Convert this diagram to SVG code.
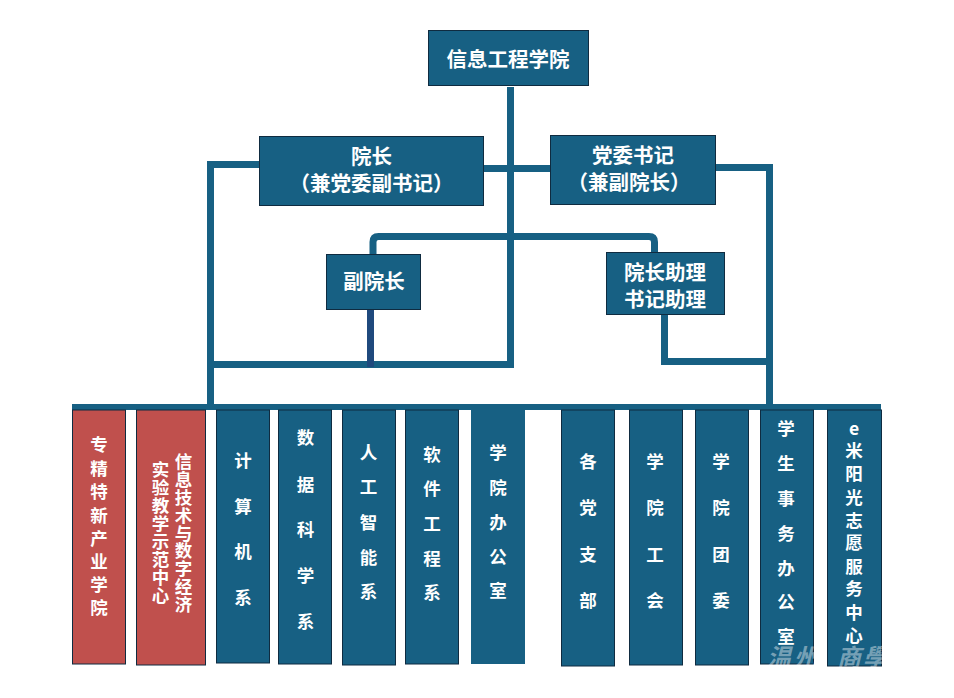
<svg xmlns="http://www.w3.org/2000/svg" width="954" height="698" viewBox="0 0 954 698">
<style>
.b{fill:#176083;stroke:#0f2b40;stroke-width:1}
.r{fill:#c0504d;stroke:#0f2b40;stroke-width:1}
.c{fill:none;stroke:#176083;stroke-width:7}
text{font-family:"Noto Sans CJK SC","Liberation Sans",sans-serif;font-weight:700;fill:#fff;text-anchor:middle}
.t{font-size:20.5px}
.v{font-size:17.5px}
.w{font-size:24px;font-style:italic;font-weight:700;fill:#fff;fill-opacity:.42}
</style>
<rect width="954" height="698" fill="#fff"/>
<g id="connectors">
<path class="c" d="M510.500 87V364.500H209"/>
<path class="c" d="M259 164.500H210.500V405"/>
<path class="c" d="M484 168.500H550"/>
<path class="c" d="M716 167.500H769.500V405"/>
<path class="c" d="M373 254V242Q373 236.500 378.500 236.500H649Q654.500 236.500 654.500 242V252"/>
<path class="c" d="M664.500 314V361.500H770"/>
<path class="c" style="stroke:#1f497d" d="M370.500 309V367"/>
<path class="c" style="stroke-width:6" d="M72 407H881"/>
</g>
<g id="n-college"><rect class="b" x="428.500" y="30.500" width="160" height="55"/><text class="t" x="508" y="66.500">信息工程学院</text></g>
<g id="n-dean"><rect class="b" x="259.500" y="136.500" width="224" height="69"/><text class="t" x="371.500" y="164">院长</text><text class="t" x="371.500" y="191">（兼党委副书记）</text></g>
<g id="n-secretary"><rect class="b" x="550.500" y="135.500" width="165" height="69"/><text class="t" x="633" y="163">党委书记</text><text class="t" x="629" y="189.500">（兼副院长）</text></g>
<g id="n-vice"><rect class="b" x="326.500" y="254.500" width="94" height="55"/><text class="t" x="374" y="289">副院长</text></g>
<g id="n-assistant"><rect class="b" x="606.500" y="252.500" width="118" height="62"/><text class="t" x="665" y="280">院长助理</text><text class="t" x="665" y="307">书记助理</text></g>
<g id="n-c1"><rect class="r" x="72.500" y="410" width="53" height="254"/><text class="v" x="99 99 99 99 99 99 99 99" y="451 475 498 521.500 545 568 591 614">专精特新产业学院</text></g>
<g id="n-c2"><rect class="r" x="136.500" y="410" width="69" height="255"/><text class="v" x="183.500 183.500 183.500 183.500 183.500 183.500 183.500 183.500 183.500" y="468 486 504 522 540 557 575 593 611">信息技术与数字经济</text><text class="v" x="160.500 160.500 160.500 160.500 160.500 160.500 160.500 160.500" y="476 494 512 530 548 566 584 602">实验教学示范中心</text></g>
<g id="n-c3"><rect class="b" x="216.500" y="410" width="53" height="253"/><text class="v" x="243 243 243 243" y="467 513 558 604">计算机系</text></g>
<g id="n-c4"><rect class="b" x="278.500" y="410" width="53" height="254"/><text class="v" x="305.500 305.500 305.500 305.500 305.500" y="444 491 536 582 628">数据科学系</text></g>
<g id="n-c5"><rect class="b" x="342.500" y="410" width="53" height="255"/><text class="v" x="368.500 368.500 368.500 368.500 368.500" y="459 493 529 564 598">人工智能系</text></g>
<g id="n-c6"><rect class="b" x="405.500" y="410" width="53" height="254"/><text class="v" x="432 432 432 432 432" y="461 495 530 565 599">软件工程系</text></g>
<g id="n-c7"><rect x="471" y="410" width="54" height="254" fill="#176083"/><text class="v" x="498 498 498 498 498" y="459 494 529 563 597">学院办公室</text></g>
<g id="n-c8"><rect class="b" x="561.500" y="410" width="53" height="256"/><text class="v" x="588 588 588 588" y="468 514 561 607">各党支部</text></g>
<g id="n-c9"><rect class="b" x="629.500" y="410" width="53" height="255"/><text class="v" x="655 655 655 655" y="468 514 561 607">学院工会</text></g>
<g id="n-c10"><rect class="b" x="695.500" y="410" width="53" height="255"/><text class="v" x="721 721 721 721" y="468 514 561 607">学院团委</text></g>
<g id="n-c11"><rect class="b" x="760.500" y="410" width="53" height="254"/><text class="v" x="786 786 786 786 786 786 786" y="435 470 505 540 575 608 643">学生事务办公室</text></g>
<g id="n-c12"><rect class="b" x="827.500" y="410" width="54" height="256"/><text class="v" x="854 854 854 854 854 854 854 854 854 854" y="435 457 480 504 527 549 573 595 619 642">e米阳光志愿服务中心</text></g>
<text class="w" x="779 806 849 875" y="666">温州商學</text>
</svg>
